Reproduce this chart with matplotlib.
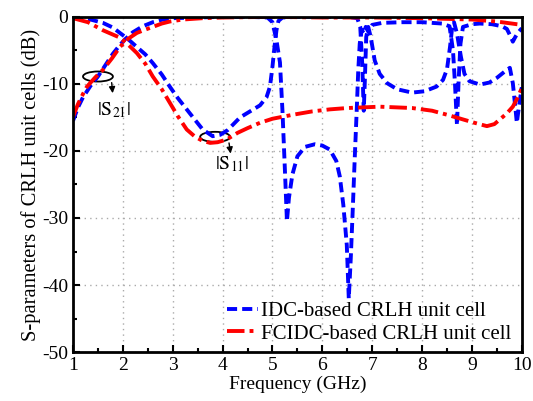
import matplotlib
matplotlib.use("Agg")
import matplotlib.pyplot as plt
from matplotlib.patches import Ellipse

plt.rcParams['font.family'] = ['Liberation Serif', 'DejaVu Serif']
plt.rcParams['mathtext.fontset'] = 'stix'
plt.rcParams['axes.unicode_minus'] = False

# IDC-based CRLH unit cell, |S11| (dB)
idc_s11_f = [1.0, 1.3, 1.6, 1.8, 1.94, 2.1, 2.28, 2.45, 2.6, 2.78, 2.94, 3.1, 3.28, 3.45,
             3.6, 3.8, 3.95, 4.1, 4.35, 4.55, 4.75, 4.88, 4.95, 5.0, 5.04, 5.08, 5.12, 5.2,
             5.5, 6.0, 6.5, 6.7, 6.76, 6.8, 6.83, 6.85, 6.88, 6.92, 6.97, 7.05, 7.15, 7.3,
             7.5, 7.8, 8.05, 8.29, 8.42, 8.5, 8.56, 8.6, 8.64, 8.7, 8.78, 8.85, 8.95, 9.16,
             9.35, 9.5, 9.65, 9.76, 9.82, 9.87, 9.9, 9.95, 10.0]
idc_s11 = [0.0, -0.3, -0.9, -1.6, -2.4, -3.3, -4.5, -5.6, -6.9, -8.6, -10.4, -12.1, -13.8, -15.4,
           -16.8, -17.8, -17.6, -16.9, -15.0, -14.1, -13.2, -12.0, -10.4, -7.4, -4.5, -2.0, -0.6, -0.1,
           0.0, 0.0, 0.0, -0.2, -1.5, -7.0, -14.0, -10.0, -3.0, -1.5, -3.0, -6.5, -8.5, -9.9,
           -10.8, -11.3, -11.1, -10.4, -9.4, -7.8, -4.5, -1.8, -0.8, -2.5, -6.0, -8.5, -9.6, -10.1,
           -9.8, -9.1, -8.2, -7.6, -9.9, -13.5, -15.8, -13.0, -10.5]

# IDC-based CRLH unit cell, |S21| (dB)
idc_s21_f = [1.0, 1.1, 1.2, 1.35, 1.5, 1.65, 1.8, 1.94, 2.05, 2.2, 2.4, 2.6, 2.8, 3.0, 3.5,
             4.0, 4.5, 4.9, 5.0, 5.08, 5.15, 5.2, 5.25, 5.29, 5.33, 5.4, 5.5, 5.65, 5.85, 6.0,
             6.15, 6.28, 6.35, 6.42, 6.49, 6.53, 6.57, 6.61, 6.65, 6.69, 6.72, 6.75, 6.79, 6.83,
             6.87, 6.92, 7.0, 7.2, 7.6, 8.0, 8.4, 8.55, 8.62, 8.66, 8.7, 8.73, 8.77, 8.82, 9.0,
             9.16, 9.4, 9.6, 9.7, 9.78, 9.82, 9.87, 9.92, 10.0]
idc_s21 = [-15.5, -13.5, -12.0, -10.3, -8.9, -7.2, -5.5, -4.2, -3.3, -2.3, -1.4, -0.8, -0.4, -0.2, -0.1,
           0.0, 0.0, -0.1, -0.8, -3.5, -6.8, -14.0, -23.0, -30.5, -27.0, -23.5, -20.8, -19.4, -19.0, -19.2,
           -19.8, -21.5, -23.8, -28.0, -34.0, -42.0, -36.0, -28.7, -21.0, -13.8, -8.0, -4.0, -1.9, -2.5,
           -1.5, -2.2, -1.2, -0.9, -0.8, -0.8, -1.0, -1.4, -5.0, -10.0, -16.2, -10.0, -4.0, -1.5, -1.1,
           -1.0, -1.1, -1.4, -1.8, -3.0, -3.7, -3.0, -2.4, -1.7]

# FCIDC-based CRLH unit cell, |S11| (dB)
fc_s11_f = [1.0, 1.3, 1.6, 1.94, 2.1, 2.28, 2.45, 2.6, 2.78, 2.94, 3.1, 3.28, 3.45, 3.6, 3.75,
            3.9, 4.08, 4.3, 4.5, 4.75, 5.0, 5.41, 5.8, 6.15, 6.5, 7.15, 7.8, 8.2, 8.5, 8.82,
            9.05, 9.3, 9.45, 9.56, 9.7, 9.82, 9.92, 10.0]
fc_s11 = [-0.2, -0.8, -2.0, -3.1, -4.1, -5.4, -7.0, -8.9, -10.8, -12.8, -14.8, -16.8, -17.9, -18.5, -18.8,
          -18.7, -18.3, -17.3, -16.6, -15.8, -15.2, -14.6, -14.1, -13.8, -13.6, -13.4, -13.6, -14.0, -14.6, -15.3,
          -15.8, -16.3, -16.0, -15.3, -14.4, -13.4, -12.0, -10.6]

# FCIDC-based CRLH unit cell, |S21| (dB)
fc_s21_f = [1.0, 1.1, 1.2, 1.28, 1.45, 1.6, 1.78, 1.94, 2.1, 2.28, 2.45, 2.6, 2.78, 2.94, 3.2,
            3.6, 4.0, 5.0, 6.0, 7.0, 8.0, 8.5, 9.0, 9.5, 10.0]
fc_s21 = [-14.9, -13.0, -11.5, -10.4, -9.0, -7.9, -6.2, -4.5, -3.3, -2.4, -1.9, -1.5, -1.0, -0.7, -0.4,
          -0.2, -0.1, 0.0, -0.1, -0.1, -0.2, -0.3, -0.4, -0.7, -1.2]

fig = plt.figure(figsize=(5.33, 4.01), dpi=100)
ax = fig.add_axes([0.137, 0.122, 0.842, 0.836])

blue_style = dict(color='#0000ff', linestyle=(0, (2.6, 1.3)), linewidth=2.8)
red_style = dict(color='#ff0000', linestyle=(0, (4.5, 1.3, 1.0, 1.3)), linewidth=2.8)

ax.plot(idc_s11_f, idc_s11, label='IDC-based CRLH unit cell', **blue_style)
ax.plot(idc_s21_f, idc_s21, **blue_style)
ax.plot(fc_s11_f, fc_s11, label='FCIDC-based CRLH unit cell', **red_style)
ax.plot(fc_s21_f, fc_s21, **red_style)

ax.set_xlim(1, 10)
ax.set_ylim(-50, 0)
ax.set_xticks(range(1, 11))
ax.set_yticks(range(-50, 1, 10))
ax.set_xticks([x + 0.5 for x in range(1, 10)], minor=True)
ax.set_yticks(range(-45, 0, 10), minor=True)
ax.tick_params(which='both', direction='in', top=False, right=False, labelsize=14, width=1.5)
ax.tick_params(which='major', length=5)
ax.tick_params(which='minor', length=3)
ax.grid(True, which='major', color='#aaaaaa', linestyle=(0, (1, 3)), linewidth=1.0)
for s in ax.spines.values():
    s.set_linewidth(2)

ax.set_xlabel('Frequency (GHz)', fontsize=14, labelpad=1)
ax.set_ylabel('S-parameters of CRLH unit cells (dB)', fontsize=14.8, labelpad=1)

# |S21| annotation
ax.add_patch(Ellipse((1.5, -8.9), 0.6, 1.5, fill=False, color='black', linewidth=1.3))
ax.annotate('', xy=(1.8, -11.8), xytext=(1.77, -9.4),
            arrowprops=dict(arrowstyle='-|>', color='black', lw=1.0, mutation_scale=9))
ax.text(1.82, -13.9, r'$|\mathrm{S}_{21}|$', fontsize=14, ha='center', va='center')

# |S11| annotation
ax.add_patch(Ellipse((3.85, -17.9), 0.6, 1.5, fill=False, color='black', linewidth=1.3))
ax.annotate('', xy=(4.17, -20.8), xytext=(4.12, -18.4),
            arrowprops=dict(arrowstyle='-|>', color='black', lw=1.0, mutation_scale=9))
ax.text(4.19, -22.0, r'$|\mathrm{S}_{11}|$', fontsize=14, ha='center', va='center')

ax.legend(loc='lower right', bbox_to_anchor=(1.005, -0.012), frameon=False, fontsize=15,
          handlelength=1.5, handletextpad=0.15, labelspacing=0.15, borderaxespad=0.2)

fig.savefig('out.png', dpi=100)
